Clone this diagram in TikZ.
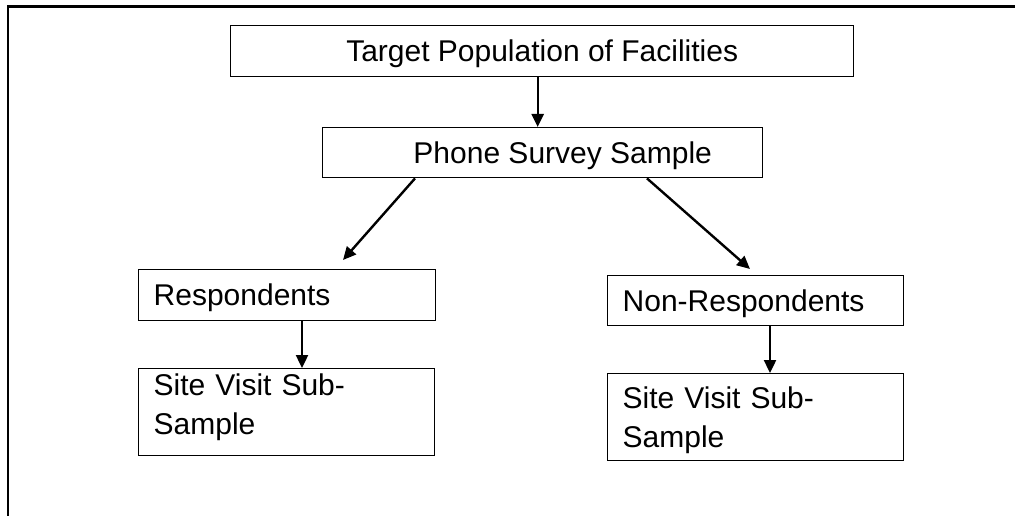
\documentclass[tikz,border=0pt]{standalone}
\usepackage{fontspec}
\setmainfont{Liberation Sans}
\usetikzlibrary{arrows.meta}
\begin{document}
\begin{tikzpicture}[x=1pt,y=-1pt,
  box/.style={draw=black,line width=1.4pt,rectangle,anchor=north west,
    inner ysep=0pt,text height=22pt,text depth=1pt,
    font=\fontsize{30}{39}\selectfont},
  cbox/.style={box,align=center,inner xsep=0pt},
  lbox/.style={box,align=left,inner xsep=15pt,text width=#1-30pt,minimum width=#1},
  arr/.style={line width=2.4pt,-{Triangle[length=13pt,width=12pt]}},
  frame/.style={line width=2.8pt}]
\useasboundingbox (0,0) rectangle (1015,516);
% page frame: top and left rules
\coordinate (fl) at (8,516);
\coordinate (fc) at (8,6.5);
\coordinate (fr) at (1015,6.5);
\draw[frame] (fl) -- (fc) -- (fr);
% boxes
\node[cbox,minimum width=623pt,minimum height=51pt] (t) at (230,25) {Target Population of Facilities};
\node[cbox,minimum width=440pt,minimum height=50pt] (p) at (322,127) {\hspace*{40pt}Phone Survey Sample};
\node[lbox=297pt,minimum height=51pt] (r) at (138,269) {Respondents};
\node[lbox=296pt,minimum height=87pt,text depth=55pt] (s1) at (138,368) {Site Visit Sub-\\Sample};
\node[lbox=296pt,minimum height=50pt] (n) at (607,275) {Non-Respondents};
\node[lbox=296pt,minimum height=87pt,text depth=39pt] (s2) at (607,373) {Site Visit Sub-\\Sample};
% connectors
\draw[arr] ([xshift=-4.5pt]t.south) -- ([xshift=-4.5pt]t.south |- p.north);
\draw[arr] ([xshift=93pt]p.south west) -- ([xshift=205pt,yshift=9pt]r.north west);
\draw[arr] ([xshift=325pt]p.south west) -- ([xshift=143pt,yshift=6pt]n.north west);
\draw[arr] ([xshift=164pt]r.south west) -- ([xshift=164pt]r.south west |- s1.north);
\draw[arr] ([xshift=163pt]n.south west) -- ([xshift=163pt]n.south west |- s2.north);
\end{tikzpicture}
\end{document}
